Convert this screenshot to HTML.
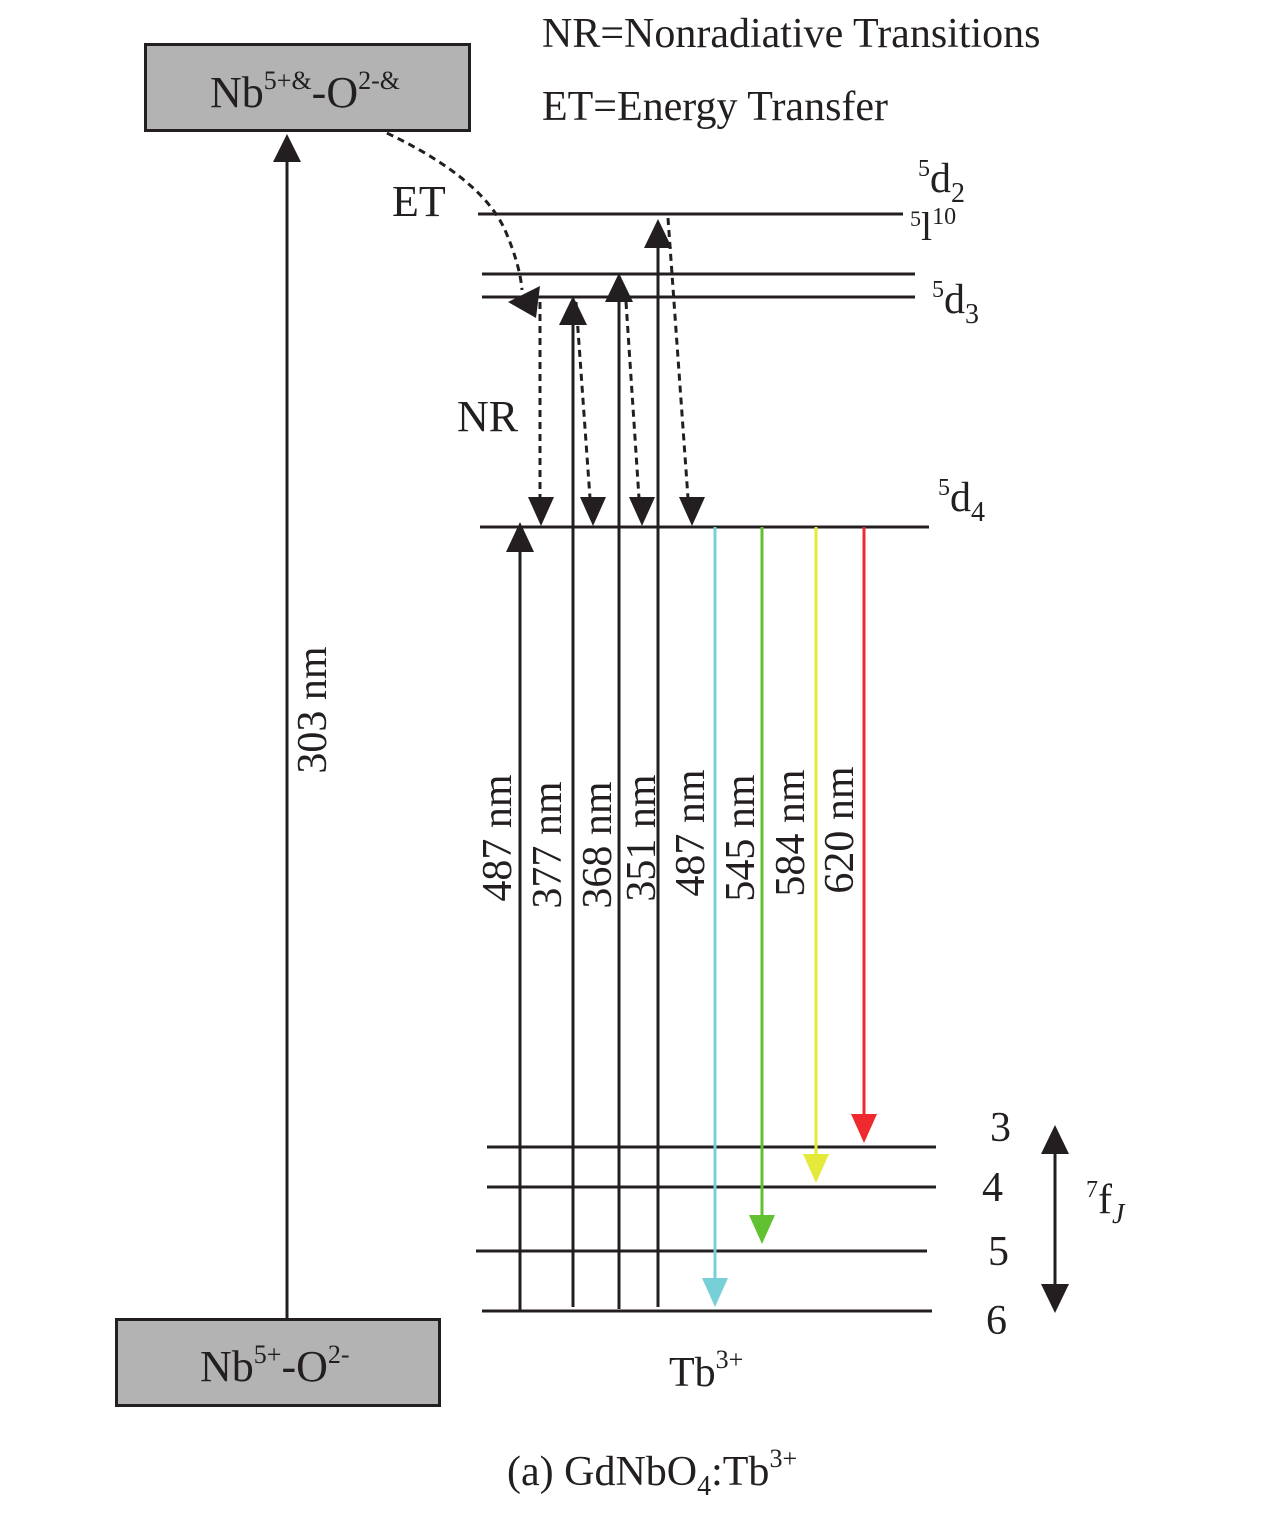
<!DOCTYPE html>
<html><head><meta charset="utf-8"><style>body{margin:0;background:#fff}svg{display:block}text{font-family:"Liberation Serif",serif;fill:#231f20}</style></head><body>
<svg width="1280" height="1516" viewBox="0 0 1280 1516" xmlns="http://www.w3.org/2000/svg">
<g stroke="#231f20" stroke-width="3" fill="none">
<line x1="478" y1="214" x2="903" y2="214"/>
<line x1="482" y1="274" x2="915" y2="274"/>
<line x1="482" y1="297" x2="915" y2="297"/>
<line x1="480" y1="527" x2="929" y2="527"/>
<line x1="487" y1="1147" x2="936" y2="1147"/>
<line x1="487" y1="1187" x2="936" y2="1187"/>
<line x1="476" y1="1251" x2="927" y2="1251"/>
<line x1="482" y1="1311" x2="932" y2="1311"/>
<line x1="287" y1="1318" x2="287" y2="160"/>
<line x1="520" y1="1311" x2="520" y2="550"/>
<line x1="573" y1="1307" x2="573" y2="322"/>
<line x1="619" y1="1309" x2="619" y2="300"/>
<line x1="658" y1="1307" x2="658" y2="245"/>
<line x1="1055" y1="1150" x2="1055" y2="1288"/>
</g>
<g stroke="#231f20" stroke-width="3" fill="none" stroke-dasharray="7,5">
<path d="M376 128 Q480 175 505 230 Q520 265 522 290"/>
<line x1="540" y1="302" x2="540" y2="498"/>
<line x1="576" y1="302" x2="590" y2="498"/>
<line x1="626" y1="302" x2="639" y2="498"/>
<line x1="668" y1="218" x2="688" y2="498"/>
</g>
<g fill="#231f20">
<polygon points="287,134 273,162 301,162"/>
<polygon points="520,522 506,552 534,552"/>
<polygon points="573,296 559,325 587,325"/>
<polygon points="619,273 605,302 633,302"/>
<polygon points="658,219 644,248 672,248"/>
<polygon points="541,526 528,497 554,497"/>
<polygon points="593,526 580,497 606,497"/>
<polygon points="642,526 629,497 655,497"/>
<polygon points="692,526 679,497 705,497"/>
<polygon points="508,302 540,286 536,318"/>
<polygon points="1055,1125 1041,1154 1069,1154"/>
<polygon points="1055,1313 1041,1284 1069,1284"/>
</g>
<line x1="715" y1="527" x2="715" y2="1282" stroke="#77d0d6" stroke-width="3"/>
<polygon points="715,1307 702,1278 728,1278" fill="#77d0d6"/>
<line x1="762" y1="527" x2="762" y2="1218" stroke="#62c130" stroke-width="3"/>
<polygon points="762,1244 749,1215 775,1215" fill="#62c130"/>
<line x1="816" y1="527" x2="816" y2="1158" stroke="#e5ea3a" stroke-width="3"/>
<polygon points="816,1183 803,1154 829,1154" fill="#e5ea3a"/>
<line x1="864" y1="527" x2="864" y2="1118" stroke="#ee2a2e" stroke-width="3"/>
<polygon points="864,1143 851,1114 877,1114" fill="#ee2a2e"/>
<rect x="145.5" y="44.5" width="324" height="86" fill="#b3b3b3" stroke="#231f20" stroke-width="3"/>
<rect x="116.5" y="1319.5" width="323" height="86" fill="#b3b3b3" stroke="#231f20" stroke-width="3"/>
<text x="210" y="107" font-size="44">Nb<tspan font-size="26" dy="-18">5+&amp;</tspan><tspan dy="18">-O</tspan><tspan font-size="26" dy="-18">2-&amp;</tspan></text>
<text x="200" y="1381" font-size="44">Nb<tspan font-size="26" dy="-18">5+</tspan><tspan dy="18">-O</tspan><tspan font-size="26" dy="-18">2-</tspan></text>
<text x="542" y="47" font-size="42">NR=Nonradiative Transitions</text>
<text x="542" y="120" font-size="42">ET=Energy Transfer</text>
<text x="392" y="216" font-size="44">ET</text>
<text x="457" y="431" font-size="44">NR</text>
<text x="918" y="192" font-size="42"><tspan font-size="24" dy="-16">5</tspan><tspan dy="16">d</tspan><tspan font-size="28" dy="10">2</tspan></text>
<text x="910" y="240" font-size="40"><tspan font-size="22" dy="-14">5</tspan><tspan dy="14">l</tspan><tspan font-size="24" dy="-16">10</tspan></text>
<text x="932" y="313" font-size="42"><tspan font-size="24" dy="-16">5</tspan><tspan dy="16">d</tspan><tspan font-size="28" dy="10">3</tspan></text>
<text x="938" y="511" font-size="42"><tspan font-size="24" dy="-16">5</tspan><tspan dy="16">d</tspan><tspan font-size="28" dy="10">4</tspan></text>
<text x="990" y="1141" font-size="42">3</text>
<text x="982" y="1201" font-size="42">4</text>
<text x="988" y="1265" font-size="42">5</text>
<text x="986" y="1334" font-size="42">6</text>
<text x="1086" y="1213" font-size="42"><tspan font-size="24" dy="-16">7</tspan><tspan dy="16">f</tspan><tspan font-size="28" dy="10" font-style="italic">J</tspan></text>
<text x="669" y="1386" font-size="42">Tb<tspan font-size="26" dy="-18">3+</tspan></text>
<text x="507" y="1485" font-size="42">(a) GdNbO<tspan font-size="28" dy="10">4</tspan><tspan dy="-10">:Tb</tspan><tspan font-size="26" dy="-18">3+</tspan></text>
<g font-size="42">
<text transform="translate(326,710) rotate(-90)" text-anchor="middle">303 nm</text>
<text transform="translate(511,838) rotate(-90)" text-anchor="middle">487 nm</text>
<text transform="translate(561,845) rotate(-90)" text-anchor="middle">377 nm</text>
<text transform="translate(611,845) rotate(-90)" text-anchor="middle">368 nm</text>
<text transform="translate(655,838) rotate(-90)" text-anchor="middle">351 nm</text>
<text transform="translate(704,833) rotate(-90)" text-anchor="middle">487 nm</text>
<text transform="translate(754,838) rotate(-90)" text-anchor="middle">545 nm</text>
<text transform="translate(804,833) rotate(-90)" text-anchor="middle">584 nm</text>
<text transform="translate(853,830) rotate(-90)" text-anchor="middle">620 nm</text>
</g>
</svg>
</body></html>
